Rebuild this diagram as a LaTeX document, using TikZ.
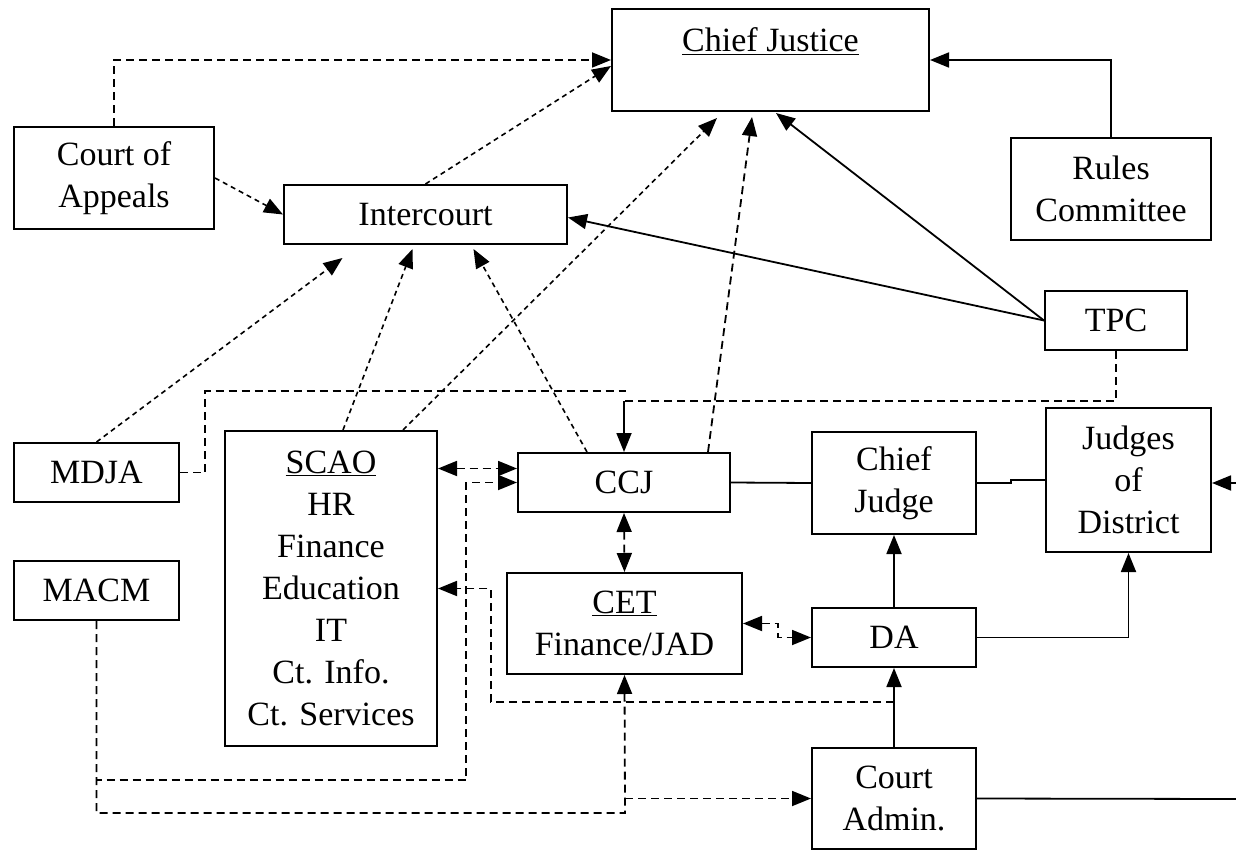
\documentclass[tikz,border=0pt]{standalone}
\usepackage{fontspec}
\setmainfont{Liberation Serif}
\usetikzlibrary{calc, positioning, arrows.meta}

\newcommand{\orgfont}{\fontsize{34}{42}\selectfont}

\begin{document}
\begin{tikzpicture}[
    x=1pt, y=-1pt,
    >={Triangle[length=19pt, width=15pt]},
    caixa/.style={draw, line width=2pt, inner sep=0pt, align=center, font=\orgfont},
    cheia/.style={line width=1.8pt},
    tracejada/.style={line width=1.8pt, dash pattern=on 8pt off 5pt},
    pontilhada/.style={line width=1.6pt, dash pattern=on 5pt off 4pt}
]

    \useasboundingbox (0,0) rectangle (1236,850);

    % 1. Caixas do topo
    \node[caixa, minimum width=317pt, text height=43pt, text depth=59pt] (CJ) at (770.5,60) {\underline{Chief Justice}};
    \node[caixa, minimum width=200pt, minimum height=102pt] (CoA) at (114,178) {Court of\\Appeals};
    \node[caixa, minimum width=283pt, minimum height=59pt] (Inter) at (425.5,214.5) {Intercourt};
    \node[caixa, minimum width=200pt, minimum height=102pt] (Rules) at (1111,189) {Rules\\Committee};
    \node[caixa, minimum width=142pt, minimum height=59pt] (TPC) at (1116,320.5) {TPC};

    % 2. Caixas da esquerda
    \node[caixa, minimum width=165pt, minimum height=59pt] (MDJA) at (96.5,472.5) {MDJA};
    \node[caixa, minimum width=165pt, minimum height=59pt] (MACM) at (96.5,590.5) {MACM};
    \node[caixa, minimum width=212pt, minimum height=315pt] (SCAO) at (331,588.5)
        {\underline{SCAO}\\HR\\Finance\\Education\\IT\\Ct. Info.\\Ct. Services};

    % 3. Caixas do centro e da direita
    \node[caixa, minimum width=212pt, minimum height=59pt] (CCJ) at (624,482.5) {CCJ};
    \node[caixa, minimum width=164pt, minimum height=102pt] (ChiefJudge) at (894,483) {Chief\\Judge};
    \node[caixa, minimum width=165pt, minimum height=144pt] (Judges) at (1128.5,480) {Judges\\of\\District};
    \node[caixa, minimum width=235pt, minimum height=101pt] (CET) at (624.5,623.5) {\underline{CET}\\Finance/JAD};
    \node[caixa, minimum width=164pt, minimum height=59pt] (DA) at (894,637.5) {DA};
    \node[caixa, minimum width=164pt, minimum height=101pt] (CourtAdmin) at (894,798.5) {Court\\Admin.};

    % 4. Pontos auxiliares
    \coordinate (tpcCanto) at (624,401);
    \coordinate (mdjaFim) at (626,391);
    \coordinate (macmA) at (466,780);
    \coordinate (macmB) at (625,813);
    \coordinate (ccjL1) at ($(CCJ.west)+(0,-14)$);
    \coordinate (caJunta) at ($(CourtAdmin.north)!0.57!(DA.south)$);
    \coordinate (bordaA) at (1236,799);
    \coordinate (bordaB) at (1236,483);

    % 5. Ligacoes para Chief Justice
    \draw[tracejada, ->] (CoA.north) |- (CJ.west);
    \draw[pontilhada, ->] (Inter.north) -- ([yshift=-6pt]CJ.west);
    \draw[cheia, ->] (Rules.north) |- (CJ.east);
    \draw[cheia, ->] (TPC.west) -- ($(CJ.south)+(5.5,1)$);
    \draw[pontilhada, ->] ($(SCAO.north)+(72,0)$) -- ($(CJ.south)+(-53.5,6)$);
    \draw[tracejada, ->] ($(CCJ.north)+(84,0)$) -- ($(CJ.south)+(-18.5,5)$);

    % 6. Ligacoes para Intercourt
    \draw[pontilhada, ->] (CoA.east) -- (Inter.west);
    \draw[cheia, ->] (TPC.west) -- ([yshift=-3pt]Inter.east);
    \draw[pontilhada, ->] (MDJA.north) -- ($(Inter.south)+(-83,13)$);
    \draw[pontilhada, ->] ($(SCAO.north)+(12,0)$) -- ($(Inter.south)+(-13,4)$);
    \draw[pontilhada, ->] ($(CCJ.north)+(-37,0)$) -- ($(Inter.south)+(48,4)$);

    % 7. Ligacoes para CCJ
    \draw[tracejada] (MDJA.east) -- ++(25,0) |- (mdjaFim);
    \draw[tracejada] (TPC.south) |- (tpcCanto);
    \draw[cheia, ->] (tpcCanto) -- (CCJ.north);
    \draw[tracejada, <->] (SCAO.east |- ccjL1) -- (ccjL1);
    \draw[tracejada, ->] (MACM.south) |- (macmA) |- (CCJ.west);
    \draw[tracejada, <->] (CCJ.south) -- (CET.north);

    % 8. MACM para CET e Court Admin.
    \draw[tracejada, ->] (MACM.south) |- (macmB) -- (CET.south);
    \draw[tracejada, ->] (macmB |- CourtAdmin.west) -- (CourtAdmin.west);

    % 9. Court Admin. para SCAO (tracejado)
    \draw[tracejada, ->] (caJunta) -- ++(-403,0) |- (SCAO.east);

    % 10. Linhas cheias do lado direito
    \draw[cheia] (CCJ.east) -- (ChiefJudge.west);
    \draw[cheia] (ChiefJudge.east) -- ++(34,0) |- (Judges.west);
    \draw[tracejada, <->] (CET.east) -- ++(35,0) |- (DA.west);
    \draw[cheia, ->] (CourtAdmin.north) -- (DA.south);
    \draw[cheia, ->] (DA.north) -- (ChiefJudge.south);
    \draw[cheia, ->] (DA.east) -| (Judges.south);
    \draw[cheia] (CourtAdmin.east) -- (bordaA);
    \draw[cheia, ->] (bordaB) -- (Judges.east |- bordaB);

\end{tikzpicture}
\end{document}
